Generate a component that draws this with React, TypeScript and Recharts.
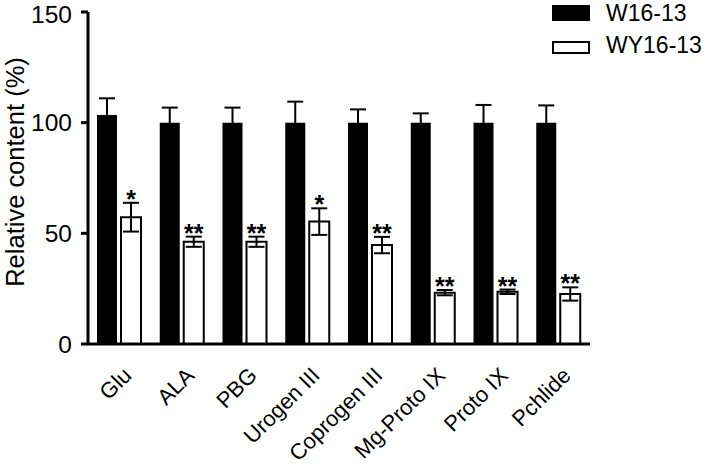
import { BarChart, Bar, XAxis, YAxis, ErrorBar, LabelList } from "recharts";

const categories = ["Glu", "ALA", "PBG", "Urogen III", "Coprogen III", "Mg-Proto IX", "Proto IX", "Pchlide"];
const w16 = [103.5, 100, 100, 100, 100, 100, 100, 100];
const w16Err = [7.5, 6.8, 6.8, 9.5, 6, 4.2, 8, 7.8];
const wy16 = [57.3, 46.2, 46.2, 55.3, 44.7, 23.2, 23.6, 22.6];
const wy16Err = [6.5, 2.3, 2.3, 6, 3.7, 1.2, 1, 3];
const marks = ["*", "**", "**", "*", "**", "**", "**", "**"];
const yTicks = [0, 50, 100, 150];

const data = categories.map((name, i) => ({
  name,
  w16: w16[i],
  w16Err: w16Err[i],
  wy16: wy16[i],
  wy16Err: wy16Err[i],
  mark: marks[i],
}));

const FONT = "'Liberation Sans', Arial, sans-serif";

const XTick = ({ x, y, payload }: any) => (
  <g transform={`translate(${x},${y})`}>
    <text
      x={0}
      y={0}
      dx={-8}
      dy={27}
      textAnchor="end"
      transform="rotate(-45)"
      fontSize={22}
      fontFamily={FONT}
      fill="#000"
    >
      {payload.value}
    </text>
  </g>
);

const StarLabel = (props: any) => {
  const { x, y, width, height, index, value } = props;
  const pxPerUnit = height / wy16[index];
  const errTop = y - wy16Err[index] * pxPerUnit;
  return (
    <text
      x={x + width / 2}
      y={errTop + 5}
      textAnchor="middle"
      fontSize={25}
      fontWeight="bold"
      fontFamily={FONT}
      fill="#000"
    >
      {value}
    </text>
  );
};

const YLabel = ({ viewBox }: any) => {
  const cy = viewBox.y + viewBox.height / 2 - 6;
  const cx = 24;
  return (
    <text
      x={cx}
      y={cy}
      transform={`rotate(-90, ${cx}, ${cy})`}
      textAnchor="middle"
      fontSize={25.5}
      fontFamily={FONT}
      fill="#000"
    >
      Relative content (%)
    </text>
  );
};

export default function App() {
  return (
    <div style={{ position: "absolute", left: 0, top: 0, width: 709, height: 473, background: "#fff" }}>
      <BarChart
        width={709}
        height={473}
        data={data}
        margin={{ top: 12, right: 119, left: 0, bottom: 0 }}
        barSize={20}
        barGap={4}
      >
        <XAxis
          dataKey="name"
          axisLine={{ stroke: "#000", strokeWidth: 3 }}
          tickLine={false}
          interval={0}
          tick={<XTick />}
          height={129}
        />
        <YAxis
          domain={[0, 150]}
          ticks={yTicks}
          axisLine={{ stroke: "#000", strokeWidth: 3 }}
          tickLine={{ stroke: "#000", strokeWidth: 3 }}
          tickSize={7}
          tickMargin={9}
          tick={{ fontSize: 24.5, fontFamily: FONT, fill: "#000" }}
          width={88}
          label={<YLabel />}
        />
        <Bar dataKey="w16" fill="#000" isAnimationActive={false}>
          <ErrorBar dataKey="w16Err" width={8} stroke="#000" strokeWidth={2} />
        </Bar>
        <Bar dataKey="wy16" fill="#fff" stroke="#000" strokeWidth={2} isAnimationActive={false}>
          <ErrorBar dataKey="wy16Err" width={8} stroke="#000" strokeWidth={2} />
          <LabelList dataKey="mark" content={<StarLabel />} />
        </Bar>
      </BarChart>
      <div style={{ position: "absolute", left: 552, top: 5, width: 38, height: 16, background: "#000" }} />
      <div
        style={{
          position: "absolute",
          left: 552,
          top: 41,
          width: 34,
          height: 9,
          border: "2px solid #000",
          background: "#fff",
        }}
      />
      <div style={{ position: "absolute", left: 606, top: -2, fontSize: 23, fontFamily: FONT, color: "#000", lineHeight: "30px" }}>
        W16-13
      </div>
      <div style={{ position: "absolute", left: 606, top: 30, fontSize: 23, fontFamily: FONT, color: "#000", lineHeight: "30px" }}>
        WY16-13
      </div>
    </div>
  );
}
